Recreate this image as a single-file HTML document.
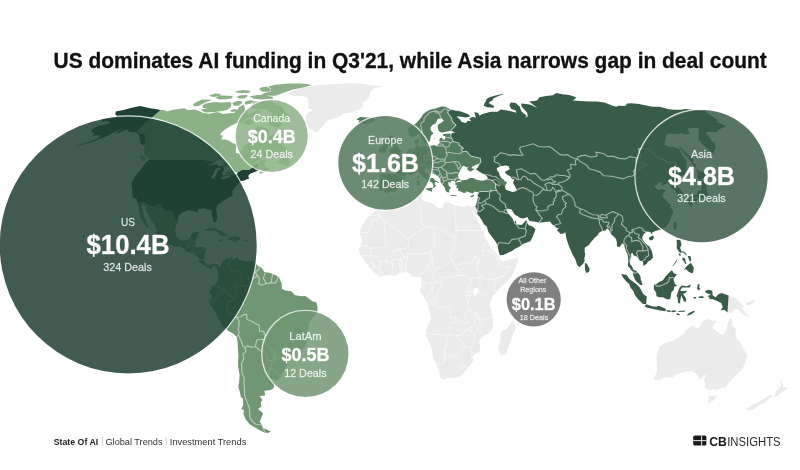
<!DOCTYPE html>
<html lang="en">
<head>
<meta charset="utf-8">
<title>US dominates AI funding in Q3'21</title>
<style>
html,body{margin:0;padding:0;background:#fff;}
body{width:800px;height:470px;overflow:hidden;position:relative;font-family:"Liberation Sans",Arial,sans-serif;}
svg{position:absolute;left:0;top:0;display:block;}
#map,#bubbles{filter:blur(.6px)}
#labels,#title,#footer,#logo{filter:blur(.55px)}
text{font-family:"Liberation Sans",Arial,sans-serif;}
.t{font-weight:700;font-size:21.3px;fill:#111;stroke:#111;stroke-width:.3px}
.w{fill:#fff;text-anchor:middle;}
.lab{font-size:11px;fill-opacity:.85}.sm{font-size:7.3px;fill-opacity:.85}
.val{font-weight:700;stroke:#fff;stroke-width:.35px;stroke-opacity:.7}
.lab,.deal,.sm{stroke:#fff;stroke-width:.3px;stroke-opacity:.45}
.deal{font-size:11px;fill-opacity:.85}
.us{fill:#1f4034}.ca{fill:#8cb186}.la{fill:#719672}.eu{fill:#567c5f}.asia{fill:#395c49}.ot{fill:#ebebeb}.wt{fill:#fff}
.b{fill:none;stroke:#fff;stroke-width:1.15;stroke-linejoin:round;stroke-linecap:round}.ba{stroke-opacity:.52}.be{stroke-opacity:.48}.bl{stroke-opacity:.5}.bf{stroke-opacity:.5;stroke-width:1}
</style>
</head>
<body>
<svg width="800" height="470" viewBox="0 0 800 470">
<rect width="800" height="470" fill="#fff"/>
<g id="map">
<path class="ot" d="M289.1 92.3L299.9 88.6L310.9 86.0L321.9 84.7L336.4 83.9L350.8 82.9L364.1 83.9L370.6 85.5L381.8 86.2L374.1 88.6L370.2 92.3L369.3 96.3L367.1 99.4L363.2 102.5L362.5 105.8L362.0 107.9L358.2 110.1L352.6 112.4L343.7 113.5L339.3 116.9L332.6 118.7L327.7 120.4L323.5 125.1L318.8 131.0L316.5 132.5L313.3 130.8L309.0 129.8L307.6 126.2L306.5 122.2L305.2 116.9L306.7 113.5L312.5 110.1L307.7 107.9L308.6 104.7L308.5 100.4L306.5 97.3L301.3 95.9L293.3 96.3L290.3 94.3ZM386.0 194.1L387.2 193.9L392.2 195.5L394.4 196.0L398.8 193.9L402.1 192.3L405.4 191.5L409.7 191.5L414.1 191.0L417.6 191.2L420.2 190.2L421.3 190.7L422.9 191.2L421.9 193.6L422.6 196.3L421.2 198.9L423.2 200.2L425.5 201.8L428.2 201.8L432.7 203.4L435.9 206.3L439.2 208.1L441.4 208.7L443.6 206.8L443.4 203.9L446.6 202.1L450.0 202.6L452.4 204.2L454.7 205.2L459.2 206.0L463.8 207.1L465.9 205.8L468.1 205.2L471.0 206.0L475.3 206.0L477.3 210.8L477.0 214.7L476.1 215.3L474.4 213.4L472.1 209.7L471.9 210.8L473.8 214.2L475.3 216.6L477.2 220.0L479.3 224.0L480.1 226.6L483.1 230.6L484.2 233.2L484.4 236.9L487.6 241.2L490.2 247.5L493.8 250.4L497.5 254.4L499.4 255.9L499.0 258.1L501.2 261.0L503.6 261.2L508.2 259.4L512.8 258.9L518.1 257.5L517.8 261.2L515.4 267.6L513.2 272.9L512.1 275.5L508.7 279.5L504.8 283.4L501.7 286.1L498.2 289.7L495.9 293.2L492.8 295.5L491.6 299.2L489.4 304.4L490.5 306.5L490.9 311.0L492.9 316.2L492.9 321.4L493.1 328.0L488.9 333.2L484.2 335.3L479.0 340.6L480.1 346.3L479.8 351.6L473.9 355.0L472.9 356.8L473.3 360.7L470.9 364.1L468.5 367.0L465.9 370.7L462.2 374.6L458.7 377.0L455.5 377.7L450.8 377.7L447.5 378.3L443.0 379.8L439.6 377.5L439.6 372.5L437.0 366.0L436.0 363.6L433.3 358.4L431.9 348.9L429.8 343.7L426.0 335.8L426.1 330.1L427.8 325.4L430.2 321.4L430.9 317.5L429.6 311.7L427.5 304.4L426.4 301.3L423.4 296.6L419.9 291.3L420.8 287.6L421.7 283.4L421.5 278.1L418.7 276.8L415.2 277.1L412.8 277.3L410.5 274.2L406.7 271.8L401.6 272.6L398.3 274.2L393.9 276.3L389.5 274.7L384.8 275.5L380.8 277.1L377.8 275.0L373.6 272.1L370.8 268.9L368.0 266.2L366.9 263.6L363.9 260.2L362.5 257.3L360.0 255.7L359.8 253.0L358.2 249.9L360.6 246.4L361.9 240.9L361.5 237.2L359.8 233.8L360.3 230.6L362.3 225.3L365.1 221.3L365.9 219.2L369.4 215.3L372.8 213.4L376.3 210.8L377.3 208.4L376.9 205.5L378.1 203.4L379.9 200.7L381.9 200.0L383.7 198.6L385.1 196.3ZM513.4 320.1L514.9 324.1L515.7 328.8L513.0 334.5L510.2 342.4L507.3 350.2L505.8 354.2L501.6 355.5L499.1 352.9L497.9 347.6L500.6 341.1L500.3 335.8L501.7 331.1L506.0 329.8L510.2 324.1ZM660.5 345.8L666.3 342.6L672.3 341.1L678.6 337.9L680.6 335.6L683.9 334.0L684.5 331.9L688.4 328.0L692.9 325.4L695.8 327.7L698.8 327.7L702.7 321.4L707.0 318.8L709.2 319.9L713.8 320.7L716.8 320.7L714.5 324.1L712.7 328.0L715.8 330.3L720.3 334.5L723.8 334.5L726.8 328.0L728.0 322.2L730.5 316.7L732.2 321.4L732.2 326.1L735.4 328.0L735.8 334.5L736.7 339.0L740.0 341.6L741.2 344.2L743.5 348.9L746.2 353.6L747.0 356.3L746.2 360.7L745.2 363.9L741.4 369.9L737.1 374.3L733.8 377.5L728.8 383.0L726.2 386.9L721.2 387.9L716.3 390.8L714.2 388.7L710.1 390.3L706.5 389.0L704.3 386.9L705.3 383.0L703.7 381.7L704.6 379.8L705.6 374.1L702.5 377.2L699.0 379.8L698.4 376.4L697.0 374.3L694.4 372.5L691.6 371.2L687.0 371.5L680.9 373.0L675.6 375.1L672.4 377.5L664.7 377.5L659.1 380.4L654.8 380.1L653.2 378.5L657.0 372.5L657.1 367.3L656.9 362.0L656.6 356.8L657.5 352.9L658.9 348.1ZM709.7 395.2L712.9 396.3L717.1 395.8L714.5 399.4L711.0 402.2L707.5 402.7L708.3 399.1ZM780.7 378.8L782.2 382.2L783.2 384.8L782.7 387.2L787.1 387.2L788.0 387.4L783.8 391.3L781.3 392.4L777.9 395.5L773.7 397.6L773.0 396.8L776.0 393.9L775.0 392.1L774.9 391.6L778.1 389.5L780.4 386.4L781.1 384.0L780.1 380.9ZM770.3 394.7L772.1 396.5L770.3 398.3L765.9 401.2L763.8 403.3L759.5 404.6L755.0 408.7L749.8 410.5L747.5 409.4L746.3 408.4L752.6 404.6L759.1 401.7L764.3 398.6L768.6 395.5ZM728.6 295.5L733.2 297.6L736.6 298.7L739.5 301.8L742.1 304.4L743.9 306.2L742.5 308.3L745.0 312.3L748.2 314.9L750.0 315.7L746.9 315.9L741.8 313.6L739.3 310.4L736.0 308.9L733.5 310.4L732.1 312.8L727.5 312.5ZM745.3 303.1L749.3 301.8L752.9 299.7L754.8 300.0L753.9 302.6L750.3 304.9L746.8 304.9Z"/>
<path class="ca" d="M160.6 109.9L163.7 110.1L167.2 111.5L172.1 110.1L178.5 109.0L184.6 108.2L187.4 110.1L194.9 109.5L199.7 111.3L203.1 113.0L209.3 113.7L213.6 112.8L217.8 111.9L222.9 113.9L230.5 113.0L234.0 113.0L237.3 110.1L239.3 106.8L243.7 104.7L245.0 107.9L244.9 110.1L247.4 111.3L247.4 113.5L250.0 114.6L255.0 111.3L260.4 109.7L259.7 112.4L256.1 115.8L251.5 117.4L247.5 118.1L244.1 120.4L241.1 122.2L235.7 123.4L230.1 126.2L224.8 129.8L221.6 132.2L220.0 135.1L222.9 135.4L221.1 139.6L225.9 139.6L229.0 140.8L233.3 143.5L237.9 144.0L235.6 149.5L236.1 153.3L239.1 153.3L242.1 150.0L243.8 145.8L249.4 142.5L251.2 140.8L251.3 137.1L250.7 134.7L254.7 131.0L256.3 126.7L261.7 126.7L266.2 128.6L269.2 129.8L268.3 133.4L269.9 135.9L274.1 135.1L277.7 131.5L278.1 134.7L280.2 138.3L280.6 142.0L282.5 144.5L285.5 147.0L287.6 149.5L287.3 152.1L284.2 153.6L279.2 156.4L273.1 156.6L267.0 156.6L262.2 158.7L257.0 161.8L251.5 165.4L255.3 163.6L261.8 159.7L266.9 159.7L265.0 162.3L264.6 164.9L265.6 166.9L270.3 168.5L271.1 169.3L274.4 165.1L273.7 167.7L266.4 171.1L260.2 173.9L259.4 171.9L263.8 169.3L261.6 169.5L258.4 169.8L257.2 168.2L258.4 164.6L255.8 163.8L253.4 165.9L252.2 167.7L248.9 170.0L242.1 170.0L237.4 172.6L233.9 173.7L231.3 174.5L231.0 175.8L226.2 177.3L222.4 178.4L221.7 177.3L224.0 175.2L225.8 170.6L224.5 168.0L222.9 165.9L221.2 163.6L216.9 161.8L214.4 162.3L211.7 161.8L208.1 160.7L205.1 160.2L204.7 158.7L204.1 159.7L149.3 159.7L148.0 157.2L144.1 154.6L144.6 150.8L144.3 147.0L144.6 144.5L145.8 142.0L144.7 139.6L145.1 135.6L144.2 133.7L139.9 134.2L138.9 132.0L136.1 131.5ZM145.2 161.3L141.8 160.2L139.5 155.4L142.3 155.1L144.9 157.2L145.8 159.7ZM281.8 125.1L277.7 127.7L273.9 126.2L270.0 125.1L267.5 121.5L260.3 121.5L260.9 119.2L268.6 118.1L273.2 113.5L269.5 111.3L266.0 109.0L255.9 109.0L251.7 107.9L251.9 104.7L254.0 101.5L262.6 100.9L268.8 101.1L273.8 103.0L279.9 105.8L283.5 107.9L284.0 111.3L288.1 114.6L291.4 116.4L285.9 120.4L282.0 122.7ZM201.9 110.8L205.5 112.4L214.2 112.1L220.2 111.3L227.1 110.1L231.0 106.8L231.5 103.0L229.4 101.9L220.6 102.5L214.9 101.9L205.6 103.6L202.3 105.8L203.2 107.9L207.8 108.4L200.8 109.5ZM192.9 104.7L194.9 106.4L199.0 105.8L205.2 102.5L211.6 100.0L208.4 99.4L201.5 99.8L195.5 102.5ZM259.8 95.7L267.5 95.7L275.2 95.7L282.1 93.3L287.0 91.4L293.2 89.5L304.1 87.2L311.6 85.2L307.2 83.9L299.4 83.5L288.2 83.6L275.7 84.7L267.9 86.4L270.9 88.6L270.6 91.4L263.9 93.3ZM273.0 99.0L272.7 96.7L263.3 95.3L257.4 95.1L249.8 96.3L253.5 98.8L262.3 99.4ZM268.7 91.8L262.7 91.8L259.5 89.5L260.4 87.7L266.3 86.5L269.8 88.3L270.8 89.9ZM231.8 98.4L226.1 99.2L219.5 99.4L215.3 97.7L220.7 95.5L228.9 95.7L232.8 96.3ZM244.4 98.4L239.7 98.4L236.2 97.3L240.2 95.3L246.6 95.1L247.5 96.3ZM238.6 105.8L233.7 105.8L232.3 103.0L237.0 100.9L241.8 100.9L242.1 103.0ZM251.3 103.6L244.6 104.7L245.1 101.5L250.4 100.2L254.1 100.9ZM253.9 123.2L248.2 125.1L244.4 123.9L242.5 122.7L247.6 119.2L250.7 118.5L252.3 121.5ZM236.3 111.3L232.2 112.1L229.9 110.8L234.0 109.0L237.0 109.5ZM220.1 95.9L213.3 96.9L208.8 95.7L215.1 93.5L220.6 93.9ZM249.5 92.7L241.2 93.3L234.3 91.8L242.6 90.1L250.5 90.8ZM276.4 163.3L280.1 163.3L283.8 165.1L287.7 165.9L290.0 163.6L289.0 161.0L288.7 158.7L285.9 157.7L285.5 155.9L287.4 153.1L283.9 154.6L281.0 158.4L278.2 161.0Z"/>
<path class="us" d="M149.3 159.7L146.0 162.3L142.5 166.7L138.3 172.6L135.4 175.8L131.9 182.0L131.5 184.9L132.2 188.9L132.1 192.0L132.8 197.3L136.6 198.9L138.0 202.9L143.5 202.3L150.5 206.0L156.8 206.0L157.2 204.7L161.0 204.7L163.8 210.5L166.7 212.1L168.4 210.0L170.9 210.0L172.8 214.7L173.6 216.1L174.1 219.0L177.9 220.3L178.4 216.1L181.0 213.4L184.9 211.6L187.9 210.3L192.9 210.8L196.1 211.8L197.8 212.1L197.9 208.9L201.3 208.7L205.9 208.4L207.7 210.3L210.1 209.5L211.8 212.1L211.8 215.3L212.8 218.7L214.0 222.1L215.8 222.1L217.4 217.9L217.1 213.4L216.2 209.5L217.0 206.0L218.6 203.9L222.1 201.5L226.0 199.2L229.8 197.0L232.5 195.5L232.5 191.2L234.4 188.4L236.1 186.2L239.2 183.1L239.7 181.5L244.3 180.5L246.9 179.2L249.2 178.6L248.2 176.3L249.6 173.9L253.2 172.6L258.0 170.8L258.4 169.8L257.2 168.2L258.4 164.6L255.8 163.8L253.4 165.9L252.2 167.7L248.9 170.0L242.1 170.0L237.4 172.6L233.9 173.7L231.3 174.5L231.0 175.8L226.2 177.3L222.4 178.4L221.7 177.3L224.0 175.2L225.8 170.6L224.5 168.0L222.9 165.9L221.2 163.6L216.9 161.8L214.4 162.3L211.7 161.8L208.1 160.7L205.1 160.2L204.7 158.7L204.1 159.7ZM160.6 109.9L155.0 109.0L150.3 108.2L145.6 107.3L140.1 106.0L131.7 107.7L123.4 109.9L115.7 111.5L115.3 114.4L116.9 115.8L115.6 117.4L111.9 116.9L102.0 119.0L101.6 121.3L107.5 121.5L110.8 121.8L108.1 123.9L103.3 124.8L97.9 126.2L93.3 128.4L91.0 131.0L92.0 132.5L94.8 132.5L92.4 135.4L97.8 135.6L100.9 135.4L98.0 138.3L88.8 142.0L82.8 144.0L75.7 145.5L79.5 145.3L86.0 143.8L91.7 142.0L100.0 138.8L106.1 136.4L110.2 134.2L116.1 131.0L121.7 129.3L113.8 133.9L118.9 132.7L124.3 130.3L128.0 129.8L128.6 131.5L129.7 132.2L134.4 132.2L137.4 133.0L139.2 135.9L139.9 138.1L140.1 141.0L140.8 143.5L142.4 145.0L144.6 144.5L145.8 142.0L144.7 139.6L145.1 135.6L144.2 133.7L139.9 134.2L138.9 132.0L136.1 131.5Z"/>
<path class="la" d="M138.0 202.9L138.4 205.5L138.7 209.5L140.4 213.4L140.6 215.3L138.8 215.3L141.3 218.7L143.3 222.7L145.5 225.3L147.3 228.2L148.6 227.2L146.9 224.0L145.5 220.0L143.8 216.1L143.0 212.1L141.8 208.1L142.5 204.7L146.0 206.3L145.7 210.8L148.0 214.7L150.4 218.7L152.9 222.7L155.5 227.2L157.0 231.9L156.4 235.1L158.2 238.5L163.6 241.2L167.8 243.8L174.4 246.7L179.1 245.9L182.4 247.5L185.1 250.4L187.7 252.0L191.1 253.0L194.5 253.8L195.6 254.4L196.6 256.2L198.8 258.3L199.3 260.2L199.0 262.3L201.2 263.1L203.9 265.7L205.2 266.8L207.5 267.0L209.8 268.9L210.9 269.7L212.2 266.8L213.5 265.2L216.4 266.8L217.0 269.7L218.6 265.7L215.9 263.6L212.6 263.9L208.8 265.2L206.5 263.9L204.4 261.0L204.0 257.0L205.6 251.7L206.1 249.1L203.3 247.0L199.8 246.7L195.1 247.2L194.1 246.4L195.2 242.5L196.0 239.8L197.5 237.2L199.2 233.2L199.8 231.9L197.1 231.6L191.6 233.2L190.7 236.4L188.0 239.8L182.1 240.6L178.2 239.0L177.2 237.7L175.7 233.8L174.9 229.8L176.3 225.3L177.9 220.3L174.1 219.0L173.6 216.1L172.8 214.7L170.9 210.0L168.4 210.0L166.7 212.1L163.8 210.5L161.0 204.7L157.2 204.7L156.8 206.0L150.5 206.0L143.5 202.3ZM218.6 265.7L219.6 267.6L221.7 264.1L223.0 261.0L224.7 259.4L229.0 258.3L232.6 255.9L233.0 258.3L231.7 260.2L235.5 258.3L236.1 256.5L239.4 259.9L244.0 260.7L248.6 261.8L253.3 260.4L254.9 262.3L257.7 265.7L261.2 267.6L264.5 272.1L270.3 273.1L276.1 275.5L279.1 277.6L281.8 283.9L281.8 288.7L285.3 290.5L291.2 291.3L295.2 295.2L301.7 296.3L305.3 296.0L308.8 298.4L312.3 301.3L316.3 302.3L317.6 307.3L317.2 312.3L313.8 316.2L311.6 320.1L309.4 322.7L308.5 328.0L308.3 334.5L306.9 341.1L304.9 346.3L302.8 348.9L300.0 348.9L296.1 351.0L292.7 352.1L289.6 355.5L288.8 360.7L287.3 364.6L284.6 369.9L282.4 373.0L280.3 377.7L277.4 380.1L274.8 380.1L269.7 377.7L269.8 379.3L272.9 381.7L274.5 384.3L273.4 388.2L270.7 390.0L264.4 390.8L265.2 395.5L259.4 396.0L262.6 399.9L260.6 402.5L261.4 406.4L258.1 408.9L262.5 412.8L263.2 413.5L261.2 417.9L259.7 421.7L262.2 424.9L263.3 427.9L270.6 431.2L268.4 432.9L264.3 432.4L257.9 429.2L253.8 426.7L249.7 424.2L245.5 419.1L243.4 414.1L244.0 410.2L241.4 408.9L243.2 405.1L243.0 398.6L240.9 397.3L239.9 392.1L238.4 386.9L239.2 381.7L239.6 375.1L238.2 367.3L238.1 360.7L238.5 355.5L238.0 350.2L237.6 342.4L236.8 336.9L233.7 334.0L227.6 330.6L221.8 325.1L219.3 320.1L215.9 313.6L212.5 307.6L209.6 304.4L208.8 300.5L211.0 297.6L211.9 295.2L209.3 294.5L209.8 291.3L211.4 288.7L211.6 286.6L214.5 284.7L217.5 282.1L218.3 278.1L217.7 274.2L218.1 271.5L217.0 269.7ZM204.1 230.9L206.7 228.7L210.2 227.7L214.8 228.0L218.0 229.5L222.3 231.6L225.5 234.0L228.3 235.3L226.4 236.1L220.6 236.1L219.7 234.0L216.6 231.6L212.2 230.3L208.7 230.6L205.2 231.1ZM227.4 239.8L229.8 236.4L233.3 236.4L237.9 236.4L241.2 239.6L237.5 240.4L233.8 242.0L231.7 240.6ZM218.3 240.4L221.4 239.8L223.1 241.2L220.5 241.7ZM243.9 240.1L247.6 240.4L247.0 241.4L243.8 241.2Z"/>
<path class="asia" d="M450.7 109.5L454.7 110.4L460.0 111.3L467.8 113.9L470.4 116.4L465.5 117.6L459.9 116.4L456.4 116.4L459.8 119.2L461.5 122.0L466.2 122.9L467.4 120.8L471.1 121.3L469.3 118.5L472.4 117.1L475.9 117.4L474.9 114.6L474.4 112.4L472.7 111.9L477.7 112.8L479.7 115.8L481.7 114.2L487.9 112.6L490.9 111.7L497.7 111.7L500.8 109.5L507.3 110.6L513.0 111.7L516.3 112.8L515.8 110.6L511.5 109.0L509.4 105.8L510.6 102.5L515.7 103.0L519.8 106.8L521.3 111.3L526.7 115.8L525.0 117.4L527.8 116.2L527.1 112.4L521.7 106.8L521.1 103.6L526.3 104.0L530.9 104.7L537.5 107.9L529.1 101.5L537.0 100.4L539.5 97.3L546.0 96.1L552.8 95.3L556.3 92.9L562.3 94.3L569.2 94.9L576.3 97.3L573.0 100.4L580.1 101.1L588.7 101.5L596.7 101.5L604.5 102.5L612.6 105.8L616.4 106.8L618.4 105.8L625.3 106.0L627.1 103.6L631.3 103.2L639.1 104.0L647.3 105.8L653.0 106.8L659.6 106.8L667.8 109.0L673.9 109.7L680.6 109.7L685.5 109.0L690.4 109.5L695.8 109.7L705.0 111.3L718.1 119.9L718.7 121.5L715.3 121.1L726.2 126.2L721.1 128.6L717.8 130.3L717.0 132.2L708.4 131.7L705.8 132.7L709.1 137.1L712.1 141.5L715.2 142.0L714.9 144.5L716.0 149.0L713.8 149.5L714.8 154.6L709.8 150.8L702.6 144.5L698.4 139.6L698.8 136.4L698.4 132.7L699.2 131.0L697.9 126.2L698.5 128.1L692.6 127.9L687.7 128.4L689.8 133.4L685.5 134.7L681.7 133.2L677.2 133.9L671.3 133.7L667.1 134.2L665.8 137.6L665.0 140.8L664.5 144.5L669.3 147.0L673.2 146.5L679.0 149.0L681.0 152.1L683.1 155.9L686.7 161.0L686.6 166.2L685.9 171.3L684.9 174.7L681.5 176.0L678.5 175.0L677.2 177.1L677.1 180.5L675.9 183.1L674.7 184.9L677.6 186.8L681.8 191.0L683.5 194.1L683.2 196.0L680.4 197.0L678.2 197.6L676.7 193.6L675.1 189.7L672.3 188.9L670.4 187.0L669.7 184.4L667.1 183.1L664.7 184.4L662.5 186.0L661.2 181.8L657.6 183.1L656.5 185.2L653.9 185.7L656.4 188.4L658.7 190.2L661.4 188.9L666.5 190.5L664.0 192.3L663.1 193.6L662.0 196.3L665.2 198.9L668.3 202.9L671.1 205.5L670.2 208.1L672.9 209.5L673.0 213.4L671.5 216.1L670.5 220.0L668.2 224.0L665.4 227.2L660.2 229.8L658.7 230.1L655.4 231.1L652.2 232.4L652.2 235.1L650.3 231.9L647.4 231.4L646.4 231.9L643.9 233.8L642.2 237.2L642.5 239.3L644.6 242.5L647.3 245.1L649.3 246.4L651.5 250.4L652.6 254.4L653.0 257.5L650.2 260.4L648.0 261.5L647.0 263.6L643.6 266.0L642.9 262.3L642.1 261.0L639.8 260.7L638.4 258.3L636.6 256.5L633.4 255.2L633.0 253.3L631.0 253.6L631.3 257.0L630.4 259.6L629.9 262.3L630.2 264.4L632.0 266.2L633.4 269.7L635.8 270.7L637.5 272.3L640.4 276.0L640.8 279.5L642.1 283.4L642.6 285.0L640.9 285.3L638.1 282.9L635.7 280.8L634.0 277.6L633.1 274.4L632.8 271.8L631.5 270.5L629.8 268.1L628.0 266.2L628.2 262.3L628.1 257.5L627.6 254.4L626.1 251.7L624.7 247.8L624.4 245.1L622.3 243.3L619.6 247.0L616.9 246.4L616.9 242.5L616.0 239.0L613.8 236.4L612.2 235.3L610.6 233.5L608.9 229.8L606.9 228.5L605.6 230.6L602.7 231.1L600.9 231.4L598.4 233.2L598.2 234.8L596.1 236.4L594.0 238.5L591.0 242.0L588.8 244.9L586.6 246.4L584.7 247.8L584.6 251.7L585.3 254.1L584.4 258.3L584.6 261.5L582.9 264.1L581.1 265.5L579.6 267.3L577.1 264.9L576.3 262.3L575.2 259.1L572.5 254.6L570.5 249.6L569.6 247.8L568.1 243.8L566.4 238.5L565.7 234.6L565.2 231.9L564.2 233.2L560.6 234.0L556.8 230.1L558.9 228.5L556.0 227.4L554.5 226.1L552.3 224.5L551.4 223.2L550.1 221.6L545.6 222.1L540.6 222.4L539.0 222.4L536.7 221.9L533.0 221.6L529.1 220.8L527.5 217.1L523.6 218.4L520.1 217.9L517.6 216.1L515.2 215.0L513.3 212.4L511.6 209.5L508.8 208.7L507.8 209.5L506.4 209.5L506.8 211.0L508.2 213.4L510.9 216.6L512.7 218.7L513.6 221.3L514.5 223.2L515.1 219.8L516.3 222.7L516.2 224.5L518.5 224.8L522.0 224.8L524.6 221.9L526.2 219.8L527.2 222.7L528.9 225.3L532.6 226.4L535.6 229.3L533.6 234.6L531.9 238.5L530.2 241.2L526.9 242.5L523.5 243.8L519.6 246.4L514.6 249.1L512.4 250.7L509.0 252.3L503.3 254.9L499.9 255.2L499.1 253.0L498.2 249.6L497.5 245.1L495.7 241.7L493.2 238.5L490.2 234.6L488.4 231.9L486.7 226.6L483.8 224.0L481.7 220.0L479.1 216.1L477.4 214.2L477.3 210.8L475.3 206.0L475.9 205.2L476.4 203.9L476.7 202.1L477.0 200.7L477.5 199.2L477.9 197.6L477.7 193.9L478.3 193.6L479.2 191.8L482.0 191.5L486.4 191.5L491.5 190.7L496.7 190.5L495.7 188.4L495.6 183.9L492.1 180.2L487.6 179.2L487.5 177.3L485.8 175.2L483.5 174.2L479.9 171.9L477.0 170.0L475.6 169.3L478.0 167.4L478.7 165.4L480.1 164.3L477.9 164.6L480.8 162.5L480.3 158.2L476.0 157.2L470.7 156.1L466.7 151.3L462.4 151.8L461.3 149.0L463.5 148.3L459.1 145.0L459.1 143.0L453.3 141.5L451.8 138.6L451.1 137.6L450.7 134.9L451.4 133.4L453.1 132.7L455.5 132.5L452.8 131.5L450.5 131.0L453.8 127.4L456.0 125.1L452.4 121.5L451.6 118.1L449.0 114.6L447.6 112.4L448.1 111.3ZM483.8 105.8L487.1 107.3L494.0 107.7L493.7 105.8L489.3 103.6L489.1 101.9L492.3 100.4L493.3 98.4L496.9 96.7L500.4 95.3L504.4 94.7L501.2 94.3L494.6 95.7L489.5 97.3L486.6 99.0L485.7 101.5L484.4 103.6ZM694.8 167.4L696.4 165.4L692.7 162.3L693.9 159.2L686.7 153.3L683.2 149.5L679.2 146.0L679.7 148.3L683.7 153.3L687.2 157.2L691.1 162.3L693.7 166.2ZM698.3 179.2L701.3 179.4L704.6 177.9L707.0 174.5L704.7 172.6L699.6 171.3L695.5 168.7L697.5 172.6L697.6 174.7L697.3 176.5ZM701.5 179.4L704.6 183.1L705.8 184.4L706.5 187.6L707.2 191.0L708.5 194.4L707.6 196.3L706.6 195.5L705.4 196.3L705.5 197.3L703.7 197.3L701.5 197.3L701.4 198.1L700.6 200.2L697.7 198.1L694.9 197.3L691.9 198.1L688.9 198.9L689.4 197.8L691.0 195.2L694.1 194.7L697.0 194.7L697.3 193.1L698.0 191.0L698.5 189.7L699.6 191.0L701.2 189.9L701.9 187.0L701.0 183.6L699.8 181.5L699.5 179.9ZM693.4 201.5L693.4 198.9L696.3 198.1L697.4 199.4L696.3 200.5L694.7 202.1ZM687.3 200.2L689.0 199.2L691.8 201.0L692.4 204.7L691.4 206.8L689.3 204.2L687.1 201.5ZM674.2 222.1L676.6 222.7L676.3 226.6L675.7 230.6L673.4 228.0L673.3 225.3ZM648.9 237.7L652.3 235.6L654.1 236.9L652.9 239.6L651.2 240.6L649.2 239.6ZM584.9 262.8L587.1 264.1L589.7 268.9L589.1 271.8L586.4 273.1L585.1 270.2L584.9 266.2ZM676.5 239.8L680.4 239.8L681.5 245.1L680.1 247.8L681.3 251.2L684.1 251.7L686.8 254.4L686.4 255.2L683.1 252.5L680.1 252.8L678.4 250.9L676.6 247.8L676.9 245.1ZM683.6 270.2L686.8 266.0L690.9 262.8L693.7 267.6L693.5 271.5L692.0 273.6L688.3 271.5L685.8 268.9ZM687.6 255.7L690.5 256.2L691.3 259.6L690.0 262.3L689.0 259.6ZM682.5 257.5L684.9 258.3L685.6 261.0L686.3 263.6L685.0 264.1L683.8 261.0L682.5 260.2ZM672.1 266.5L674.9 262.8L676.8 258.9L676.6 261.5L673.9 265.2ZM678.3 253.3L680.7 253.8L680.5 256.2L679.5 255.7ZM653.8 284.7L656.1 284.2L659.1 282.1L663.0 280.2L665.2 276.8L669.7 272.1L671.9 270.2L673.7 272.9L676.8 274.7L674.6 277.3L673.5 279.5L674.8 283.4L677.2 286.1L674.4 286.6L673.7 290.0L671.3 292.6L670.8 296.6L670.0 299.2L666.7 299.2L663.0 297.3L659.5 297.3L656.5 296.3L656.1 292.6L653.9 289.5ZM621.4 273.9L626.6 275.0L629.6 278.9L633.4 282.1L636.2 283.9L639.8 287.4L641.7 291.3L643.2 293.9L646.7 296.6L646.2 303.9L642.9 303.9L639.5 300.5L637.7 298.7L635.0 295.2L633.5 291.3L630.4 287.4L629.2 283.9L625.6 280.8L622.0 276.0ZM644.4 306.5L646.4 304.2L652.1 306.2L656.8 306.8L658.0 305.7L661.9 307.0L665.9 309.1L665.6 311.2L660.0 310.4L653.1 309.1L647.4 307.8ZM666.1 310.2L668.4 310.2L671.0 310.7L670.4 312.0L667.4 311.7ZM671.4 311.0L674.0 310.2L676.5 311.0L675.1 312.0L671.5 312.3ZM678.4 311.0L682.2 310.7L685.7 310.4L684.4 311.7L678.6 312.0ZM686.6 315.7L689.0 313.1L692.6 311.2L695.4 310.7L693.6 312.8L690.0 314.9ZM676.1 313.6L678.9 313.6L680.1 315.2L677.1 314.9ZM678.0 303.1L677.7 297.9L676.6 295.8L678.4 290.8L679.6 287.4L681.9 285.5L686.6 286.3L691.2 284.5L689.6 287.6L681.9 287.6L680.3 291.1L683.3 291.1L687.3 290.8L685.4 292.9L683.0 293.7L684.8 296.6L686.3 299.2L685.5 302.3L683.7 301.0L681.8 296.6L681.3 295.5L680.2 301.0L680.1 303.4ZM697.1 288.7L697.8 283.9L699.9 284.7L698.8 287.4L700.2 287.9L699.0 290.8L697.8 289.5ZM698.1 297.1L701.7 296.0L704.6 297.3L702.7 298.1L699.2 297.9ZM693.4 297.1L696.2 297.1L695.7 298.7L693.8 298.4ZM728.6 295.5L721.6 292.9L718.1 294.5L715.6 297.3L712.7 295.2L712.3 290.8L708.8 289.7L705.3 290.8L705.3 292.4L708.3 293.7L711.1 294.7L707.5 296.0L709.3 297.6L709.7 299.2L712.1 298.9L716.6 300.7L721.2 303.1L722.8 307.0L720.7 310.4L724.2 309.7L727.5 312.5Z"/>
<path class="eu" d="M450.7 109.5L445.3 106.8L441.6 106.4L435.7 108.4L430.8 109.5L426.1 111.7L423.0 114.6L420.8 118.1L418.4 120.8L415.9 123.6L411.5 125.5L408.3 127.4L408.1 129.8L408.5 132.2L409.2 134.7L412.1 137.1L414.9 136.4L418.6 133.9L419.9 134.7L420.7 137.1L421.8 139.6L423.6 142.0L424.1 143.5L426.6 143.3L426.9 142.0L429.7 141.5L430.4 138.3L431.0 135.4L433.5 133.4L430.9 130.5L430.5 127.4L432.4 125.1L435.7 123.2L437.0 120.4L438.0 118.7L441.5 118.5L444.0 120.4L441.8 122.2L437.8 125.1L438.0 128.6L438.8 131.0L440.8 132.2L441.9 132.7L445.4 131.7L450.5 131.0L453.8 127.4L456.0 125.1L452.4 121.5L451.6 118.1L449.0 114.6L447.6 112.4L448.1 111.3ZM451.4 133.4L445.2 133.7L443.0 134.2L443.3 135.9L445.3 136.1L445.1 137.6L444.9 139.6L443.0 139.6L441.9 137.8L439.9 138.3L439.3 140.8L439.8 142.8L437.9 144.8L437.5 145.8L435.5 146.0L434.6 145.0L431.2 145.8L427.0 147.0L425.3 145.8L422.4 146.5L420.5 147.0L418.4 145.8L417.4 144.5L418.3 143.3L418.7 141.5L419.6 140.8L418.9 138.3L417.0 139.1L414.6 140.1L414.5 143.0L415.6 144.8L416.1 147.0L414.6 148.0L412.7 148.5L410.7 148.5L408.7 149.0L408.1 149.8L407.4 151.8L406.0 153.6L403.8 154.3L402.0 154.9L401.8 156.6L399.2 158.2L396.4 158.7L395.7 157.9L395.5 160.5L392.7 160.2L389.2 161.3L389.9 162.8L393.0 163.6L394.2 164.3L395.7 166.9L396.5 168.7L396.3 170.8L395.6 173.9L395.0 174.2L390.8 173.9L386.7 173.7L381.9 173.4L379.3 174.7L380.0 177.9L380.2 179.9L378.7 184.7L378.2 186.5L379.7 187.3L379.3 191.0L382.6 190.5L384.8 191.8L386.5 193.6L389.2 191.8L394.0 191.8L397.3 189.4L399.2 186.5L398.2 184.4L400.7 181.0L403.5 179.4L405.6 177.1L405.2 174.7L407.3 173.9L410.2 174.7L412.8 174.7L414.4 173.4L417.5 171.6L420.6 173.9L422.2 176.8L425.1 178.6L428.4 179.9L429.5 181.0L432.4 183.1L433.5 185.7L433.0 188.4L434.7 187.3L436.1 185.7L434.4 183.9L435.4 181.8L438.7 183.1L438.6 182.0L435.3 180.5L433.0 178.1L430.8 177.9L428.6 176.0L427.3 173.7L424.9 171.9L424.5 169.0L427.4 168.2L427.3 170.0L429.2 169.3L430.8 172.1L433.5 173.9L435.9 175.2L438.2 176.8L440.2 178.4L440.6 182.0L442.0 183.9L443.7 186.2L444.7 187.6L445.3 189.7L446.3 191.5L448.1 192.6L449.4 192.3L449.0 189.9L450.4 188.6L451.0 187.8L448.6 185.7L448.1 181.8L450.1 183.1L451.2 180.7L454.6 181.0L455.3 182.8L456.3 182.0L457.8 180.5L461.0 180.5L458.6 178.1L458.1 176.0L457.9 174.7L459.2 173.4L459.3 172.1L460.8 169.5L462.6 166.2L464.2 165.9L466.5 167.2L468.6 167.4L466.8 169.0L469.2 171.1L470.8 171.6L473.0 170.0L475.2 169.0L471.9 168.2L471.7 166.9L475.0 165.6L476.4 164.6L477.9 164.6L480.8 162.5L480.3 158.2L476.0 157.2L470.7 156.1L466.7 151.3L462.4 151.8L461.3 149.0L463.5 148.3L459.1 145.0L459.1 143.0L453.3 141.5L451.8 138.6L451.1 137.6L450.7 134.9ZM461.2 180.2L466.1 179.9L470.3 177.9L473.5 177.9L476.6 179.7L481.4 180.7L484.0 180.5L487.6 179.2L492.1 180.2L495.6 183.9L495.7 188.4L496.7 190.5L491.5 190.7L486.4 191.5L482.0 191.5L479.2 191.8L478.3 193.6L477.7 193.9L478.1 192.0L476.6 192.0L474.5 191.5L472.8 193.4L468.9 192.3L466.0 191.2L465.7 192.8L463.6 193.1L460.8 191.5L458.5 191.0L458.0 188.4L456.0 187.6L457.1 185.7L455.2 184.4L455.5 183.1L458.0 182.0L461.2 181.8ZM495.2 179.7L498.1 178.4L502.6 178.4L504.8 181.5L507.1 182.3L505.5 184.9L505.0 187.0L502.6 184.4L499.6 186.0L498.2 184.1L496.8 181.5ZM387.2 156.9L391.7 156.6L394.8 155.6L398.8 155.1L401.6 154.1L400.2 153.3L402.2 150.5L399.4 149.5L398.8 148.0L396.4 145.5L395.7 143.3L394.0 142.0L395.0 139.6L395.4 138.1L392.1 137.8L393.1 135.6L389.3 135.6L388.3 138.3L387.2 140.8L388.1 143.3L389.4 145.0L392.0 144.8L392.9 147.0L392.7 148.8L389.9 148.8L389.8 150.8L388.4 152.6L392.8 153.3L390.3 154.3ZM386.8 151.6L382.8 152.8L378.8 152.6L379.0 148.3L382.1 145.8L384.2 143.8L387.1 144.0L388.0 145.8L386.7 148.8ZM356.4 119.2L360.3 117.1L367.2 117.6L372.5 117.4L374.6 120.4L370.0 123.2L364.5 124.1L358.3 122.9L359.6 120.8ZM426.0 188.4L432.5 187.8L431.9 191.8L426.1 189.4ZM416.4 180.5L419.6 180.5L419.6 185.2L417.2 185.7ZM417.1 176.5L419.0 175.2L418.9 179.2L417.6 178.9ZM450.7 194.7L456.7 195.5L456.6 196.3L450.8 195.7ZM470.1 196.3L471.5 195.5L474.7 194.4L473.6 196.3L471.7 197.3ZM420.2 142.8L423.0 141.8L423.3 143.3L422.3 144.8L420.6 144.0ZM433.8 139.6L435.0 137.3L434.8 138.8ZM404.0 184.4L406.1 183.6L405.5 184.9Z"/>
<path class="wt" d="M207.6 165.6L211.2 165.1L214.4 164.9L216.8 164.1L218.0 166.2L222.3 165.9L223.4 165.1L223.6 162.8L221.6 160.5L218.0 160.2L215.0 162.3L211.1 164.1ZM211.1 178.6L213.6 178.4L215.9 175.2L217.3 171.3L219.7 169.5L221.4 168.0L219.4 167.7L217.1 168.2L214.5 170.6L213.7 173.9L211.8 176.5ZM222.7 167.4L224.2 168.7L223.9 170.6L221.8 173.2L223.8 175.2L225.9 173.9L227.8 171.3L230.5 171.3L231.3 169.3L230.0 167.4L226.0 166.9ZM220.6 178.6L223.4 179.2L228.3 177.3L231.0 175.8L230.0 175.5L226.6 176.0L222.9 177.6ZM230.0 174.5L233.6 174.5L236.9 173.9L237.9 172.4L235.3 172.6L231.9 173.2ZM496.9 168.0L500.6 166.2L505.6 165.4L508.9 166.2L509.7 169.3L506.1 171.3L504.7 171.9L506.8 174.5L510.5 176.5L511.8 179.2L514.3 179.2L513.1 183.1L514.7 185.7L516.7 189.7L515.9 191.2L512.7 192.0L509.3 191.0L505.7 189.4L505.0 187.0L505.5 184.9L507.1 182.3L504.8 181.5L503.8 179.7L501.2 177.9L499.6 175.2L499.0 172.6L497.1 170.6ZM473.2 290.0L474.8 287.9L478.4 288.2L478.3 292.6L476.0 295.5L473.6 295.0L473.2 292.6Z"/>
<path class="b ba" d="M500.8 166.7L499.0 163.6L495.5 162.3L494.2 161.0L494.8 159.2L493.8 157.2L497.1 156.4L497.7 155.1L500.7 152.8L505.4 153.8L509.9 155.4L513.7 154.6L518.0 155.4L523.0 155.1L520.9 152.1L519.5 148.3L520.9 147.0L526.3 145.8L533.3 143.8L538.4 146.5L543.6 147.0L549.3 146.5L552.1 148.3L560.1 154.6L564.4 155.1L567.2 154.6L571.4 157.2L577.1 159.2M577.1 159.2L575.2 161.0L575.9 164.9L570.5 164.3L571.3 168.7L567.2 170.0L570.0 174.7L569.7 177.3M577.1 159.2L577.5 157.2L580.9 155.9L584.6 155.1L591.7 157.2L597.1 155.9L595.9 152.1L604.0 153.8L607.5 156.4L613.6 156.4L618.9 158.4L625.3 158.9L630.0 156.6L636.1 157.7M578.1 159.2L579.4 161.0L586.3 164.9L589.1 168.7L595.0 170.3L600.0 172.1L603.8 175.8L611.5 176.3L616.2 177.3L623.3 178.9L627.7 176.8L632.6 176.0L635.1 173.4L633.3 171.3L634.7 170.0L637.9 170.0L641.0 168.2L642.1 166.4L647.0 164.9L643.0 162.8L641.1 163.1L637.6 162.3L636.1 161.5L636.1 157.7M636.1 157.7L638.9 158.4L641.0 156.4L639.9 153.3L638.9 150.5L638.5 148.8L643.1 148.3L646.8 149.3L649.6 150.3L657.2 156.4L658.1 157.7L664.8 160.0L669.0 163.1L672.6 162.3L675.5 161.5L677.7 170.0L674.6 170.0L675.2 172.6L676.8 175.2L676.9 176.8M676.9 176.8L674.8 176.5L671.9 177.9L670.4 178.9L669.3 180.7L667.1 183.1M674.7 188.9L676.0 187.6L677.6 186.8M510.9 178.4L513.8 177.1L517.7 179.7L518.7 179.7L516.2 170.0L521.1 168.7L527.3 171.9L530.0 173.9L535.1 173.4L539.6 177.9L541.3 179.9L544.7 180.5L546.5 179.4L549.2 177.9L550.0 177.1L555.2 176.5L554.8 175.2L556.7 174.7L560.1 175.5L564.4 175.5L569.7 177.3M518.7 179.7L520.9 179.7L523.1 176.0L526.7 177.3L527.7 179.7L530.6 179.9L533.6 183.1L538.7 186.0L543.6 188.4L544.2 189.9M516.5 190.2L519.7 188.4L523.2 187.6L527.5 189.4L531.4 192.0L532.9 192.0L533.5 194.7M533.5 194.7L536.5 195.5L540.3 192.8L542.2 189.7L544.2 189.9M544.2 189.9L547.0 190.5L550.3 190.7L551.9 189.4L552.7 187.3L554.1 188.6L555.4 191.8L558.3 190.2L562.5 190.5M547.0 190.5L546.5 187.0L544.7 184.4L548.5 182.6L550.8 183.1L552.3 184.4L558.4 184.4M546.5 179.4L548.7 179.7L551.7 178.9L553.4 181.0L555.7 181.5L553.5 182.6L550.8 183.1M569.7 177.3L566.1 180.5L562.4 182.0L558.4 183.1L558.4 184.4L561.7 187.0L562.5 190.5M507.8 209.5L505.6 206.8L505.5 204.2L501.1 201.5L499.6 198.9L500.3 196.3L499.9 194.1L498.3 193.6L496.7 190.5M495.6 183.9L499.6 186.0M533.5 194.7L533.0 197.6L533.3 201.5L535.1 205.5L537.2 206.8L535.6 209.7M535.6 209.7L538.2 213.2L541.0 216.9L542.2 218.4L539.0 222.4M535.6 209.7L539.5 211.0L542.8 210.8L547.8 209.7L548.0 206.3L550.7 205.0L553.5 204.4L553.3 201.5L554.9 200.5L553.8 198.9L556.0 197.6L556.4 194.9L555.7 192.8L558.6 191.5L562.5 190.5M554.5 226.1L555.7 224.5L560.6 223.7L559.5 220.8L558.0 218.4L556.4 216.9L558.1 214.7L561.4 214.0L562.8 209.7L564.7 207.9L565.8 206.6L565.0 204.2L566.6 203.4L564.0 201.5L562.7 198.9L562.2 197.0L567.7 194.4L570.1 194.9M562.5 190.5L564.8 191.8L570.1 194.9M570.1 194.9L572.8 197.6L574.8 202.9L575.1 206.0L580.6 208.9M580.6 208.9L584.2 210.0L588.1 212.4L593.1 214.7L597.9 215.0M580.6 208.9L579.4 212.6L583.0 214.7L587.4 216.3L591.5 217.9L598.7 219.0L597.9 215.0M597.9 215.0L600.1 216.6L601.6 214.2L605.9 215.3L607.5 217.7L602.8 217.9L600.2 217.4L600.1 216.6M605.9 215.3L608.7 213.4L612.7 211.6L618.5 214.0M602.7 231.1L601.8 228.0L599.6 224.0L599.2 220.6L599.6 219.0L602.8 220.0L603.1 221.9L608.9 222.4L608.6 224.5L607.0 225.8L608.0 228.0L609.5 226.1L610.9 230.9L610.6 233.5M610.9 230.9L612.2 230.1L611.9 225.3L614.3 221.9L614.7 218.4L616.6 216.6L618.5 214.0M618.5 214.0L622.2 216.1L623.1 220.6L621.3 224.0L624.8 227.4L626.3 228.2L626.0 230.3L628.3 231.9L630.9 232.7M630.9 232.7L628.7 235.1L626.4 236.4L624.1 239.8L623.8 242.5L626.8 245.6L626.2 248.6L629.2 254.4L630.4 257.5L628.9 261.8M628.7 235.1L630.0 237.2L631.6 237.2L631.8 241.7L634.2 240.6L638.5 240.4L640.7 242.7L642.9 247.0L642.7 250.9M642.7 250.9L637.6 250.9L636.4 252.8L638.1 257.8M632.5 229.5L635.2 233.5L639.3 234.8L638.1 237.5L641.2 239.8L644.8 243.8L647.8 248.6L648.2 249.9M630.9 232.7L632.3 232.7L631.8 229.8L632.5 229.5M632.5 229.5L635.5 228.7L639.4 227.2L642.8 228.5L643.0 230.6L646.4 231.9M642.7 250.9L644.6 250.9L648.2 249.9L648.6 255.7L645.3 257.8L645.0 259.6L642.1 261.0M632.8 271.5L634.7 273.4L637.2 272.3M655.2 283.4L656.2 286.1L659.7 286.1L663.2 284.7L667.3 282.9L668.9 280.8L669.3 277.6L673.5 277.6M497.8 245.4L498.8 242.7L501.5 242.7L506.2 243.3L508.5 243.8L511.7 239.6L518.5 238.5L521.5 244.6M518.5 238.5L525.2 235.9L526.4 230.6L525.1 228.7L519.1 228.2L516.5 225.0L516.2 224.5M525.1 228.7L526.1 224.8L526.6 223.2L527.2 222.7M514.5 223.2L516.2 224.0M508.0 213.4L506.4 213.4L503.5 211.8L505.3 209.5L506.4 209.5M503.5 211.8L499.5 211.6L492.8 206.3L489.0 204.4L486.2 203.7L481.5 205.5L484.0 208.1L483.0 209.5L480.9 210.8L479.9 211.6L477.5 211.0M486.2 203.7L484.9 200.5L489.5 197.8L489.5 194.9L489.6 192.3L491.5 190.7M484.9 200.5L480.8 203.4L478.5 202.3L478.0 203.1L478.2 205.5L478.1 206.8L477.5 210.8M476.8 201.3L478.3 200.7L479.8 198.4L478.3 197.3M483.5 174.2L487.8 174.7L492.4 176.3L495.6 176.5L498.1 178.4M495.2 179.7L492.1 180.2"/>
<path class="b be" d="M433.7 111.3L429.6 112.4L426.6 115.8L424.3 118.1L423.8 121.5L421.3 122.7L420.6 125.1L421.5 128.6L422.1 131.7L421.0 133.4L419.9 134.7M433.7 111.3L435.3 110.6L438.9 111.9L441.5 112.1L442.5 110.4L444.2 109.0L445.9 109.0L447.7 109.7L448.1 111.3M433.7 111.3L436.5 112.6L439.5 113.7L440.4 116.9L441.5 118.5M445.1 137.6L448.4 137.6L451.1 138.1M439.5 141.8L443.2 141.3L447.1 141.3L450.5 142.8L453.3 141.5M450.5 142.8L449.3 144.8L449.0 146.5L445.1 147.3L443.6 146.0M437.5 145.9L443.6 146.0L443.2 144.5L439.9 143.8M445.1 147.3L446.4 150.3L446.0 152.1L446.2 153.3L447.3 155.1L445.6 157.7L445.0 159.5M446.2 153.3L448.9 152.3L454.0 153.3L460.2 153.8L462.4 151.8M427.0 147.0L427.2 149.5L428.2 152.1L429.0 154.6L432.2 156.4L434.3 156.4L437.1 158.4L439.6 158.9L445.0 159.5M445.0 159.5L444.4 161.3L445.9 162.3L449.3 162.5L453.4 161.5L456.3 161.5L458.9 162.3L461.1 166.2L457.8 168.7L460.8 169.5M453.4 161.5L455.6 163.6L457.4 166.2L457.8 168.7M434.2 162.3L437.5 162.8L440.9 161.0L444.4 161.3M433.7 160.7L435.6 159.7L437.1 158.4M427.1 160.5L429.5 159.7L433.7 160.7L434.2 162.3L433.0 164.9L432.2 165.4M445.9 162.3L443.4 165.6L441.1 167.2L438.2 167.7L434.2 167.4L432.9 166.2L432.2 165.4M441.1 167.2L443.9 170.0L446.1 171.1L446.6 172.1L447.4 173.2L452.7 173.4L455.7 172.4L459.2 173.4M446.6 172.1L446.2 174.5L447.6 175.2L446.5 177.1L448.0 178.6L447.9 179.7L451.2 179.2L454.5 179.7L455.2 178.6L457.5 177.9L458.6 178.1M455.2 178.6L455.8 179.7L454.6 181.0M442.0 183.9L443.4 182.6L443.9 181.0L446.0 180.2L447.9 179.7M443.9 181.0L442.7 179.2L442.8 177.9L441.3 176.3L440.2 178.1M442.8 177.9L444.6 177.3L446.5 177.1M431.9 169.5L433.4 169.5L435.5 169.8L438.7 170.3L439.7 172.1L440.1 173.9L438.1 176.3M431.9 169.5L432.5 172.1L435.9 175.2L438.2 176.5M438.7 170.3L438.5 168.7L438.2 167.7M440.1 173.9L441.9 175.8L441.3 176.3M427.2 168.7L430.8 168.7L432.9 166.2M427.4 168.2L427.3 166.2L432.2 165.4M395.0 174.2L400.3 176.0L405.6 176.8M380.0 178.1L381.3 177.6L384.9 178.1L385.5 178.9L383.9 183.1L382.6 184.1L383.6 187.8L382.6 190.5M414.6 173.2L413.5 171.3L413.4 168.7L413.4 167.7L411.3 166.9L413.3 163.6L414.5 163.3L415.6 159.7L411.8 158.4L407.3 157.2L403.8 154.3M405.6 153.6L408.9 153.6L410.5 154.6L410.9 155.1L410.8 152.6L412.8 151.6L413.1 148.8M410.9 155.1L411.4 157.2L411.8 158.4M415.6 144.8L417.4 145.0M414.5 163.3L418.6 163.6L420.5 163.8L423.6 163.3L425.6 163.6L425.5 161.5L427.1 160.5L424.3 158.4L423.3 156.4L427.6 154.6L429.0 154.6M413.4 167.7L416.5 166.9L417.6 168.0L420.4 165.9L423.7 164.9L427.3 166.2M418.6 163.6L418.5 164.6L420.4 165.1M451.4 133.4L450.7 134.9L451.1 137.6L451.8 138.6L453.3 141.5L459.1 143.0L459.1 145.0L463.5 148.3L461.3 149.0L462.4 151.8L466.7 151.3L470.7 156.1L476.0 157.2L480.3 158.2L480.8 162.5L477.9 164.6M447.6 112.4L449.0 114.6L451.6 118.1L452.4 121.5L456.0 125.1L453.8 127.4L450.5 131.0M450.7 109.5L448.1 111.3L447.6 112.4M487.6 179.2L492.1 180.2L495.6 183.9L495.7 188.4L496.7 190.5L491.5 190.7L486.4 191.5L482.0 191.5L479.2 191.8L478.3 193.6L477.7 193.9"/>
<path class="b bl" d="M233.0 257.5L230.1 259.6L228.7 264.4L230.1 267.6L230.7 270.2L235.4 270.5L241.2 272.3L240.3 276.8L241.4 280.0L242.3 285.5M242.3 285.5L245.5 286.6L249.1 284.7L249.1 282.1L250.5 282.9L248.0 278.1L252.0 278.7L256.2 276.8L257.0 275.0M257.0 275.0L255.6 272.9L256.2 271.0L258.8 269.7L259.3 266.8M257.0 275.0L258.6 276.8L259.7 279.5L258.5 283.4L261.9 285.3L265.5 283.7L266.6 283.7L271.1 282.6L275.5 282.9L278.0 277.6M266.6 283.7L263.2 278.1L265.2 272.9M271.1 282.6L271.9 278.1L272.7 273.6M242.3 285.5L236.2 284.2L235.5 286.9L235.0 288.7L236.4 291.3L235.2 299.7M235.2 299.7L229.2 295.0L226.8 292.1L222.6 289.0L218.6 287.6L214.5 284.7M222.6 289.0L222.2 292.6L216.9 296.6L214.9 300.5L213.0 301.8L211.1 300.2L211.0 297.6M235.2 299.7L228.2 301.8L226.8 307.0L228.7 312.8L231.1 314.9L234.3 313.6L234.5 317.5L236.8 317.5M236.8 317.5L239.2 321.4L238.8 326.7L238.1 329.3L239.3 331.9L238.4 334.5L236.8 336.9M236.8 317.5L240.5 316.7L243.9 314.6L246.7 314.4L246.9 319.3L252.4 321.7L256.1 324.1L258.9 324.8L259.6 331.1L264.0 331.4L264.2 334.5L266.2 335.8L265.5 340.6L265.1 341.6M265.1 341.6L262.6 339.2L256.7 340.0L255.2 346.8L251.2 347.1L249.5 346.6L246.9 345.8L245.1 348.4M245.1 348.4L242.5 345.0L241.4 341.1L239.9 338.5L238.4 334.5M265.1 341.6L266.4 346.6L270.6 347.1L271.9 351.6L274.9 351.6L274.7 355.7M274.7 355.7L272.5 360.5L266.1 359.9L267.7 355.0L261.9 351.6L255.2 346.8M274.7 355.7L277.1 358.9L272.8 362.8L269.5 367.8M269.5 367.8L273.3 369.4L277.1 372.0L280.4 377.0M269.5 367.8L269.2 373.8L269.4 377.5M245.1 348.4L245.9 351.6L243.0 353.6L243.6 359.4L241.5 363.3L241.8 368.6L242.2 373.8L244.2 377.7L243.9 383.0L244.6 389.5L244.4 394.7L247.1 402.5L249.3 407.6L249.6 411.5L250.0 417.9L252.6 421.7L255.7 424.2L259.9 424.7L262.3 425.2M262.2 425.9L264.7 431.4M185.1 250.4L186.7 246.2L189.7 246.2L188.7 243.3L188.9 241.7L193.0 241.7L195.3 239.8M193.0 241.7L192.4 246.7M194.7 247.2L191.8 250.7L189.7 252.5M191.8 250.7L194.6 252.0L195.0 253.3M196.1 254.4L199.3 251.7L201.8 249.9L206.1 249.1M199.4 259.4L203.3 260.2L204.0 259.9M205.4 267.3L206.3 263.6M233.7 236.7L233.5 241.2"/>
<path class="b bf" d="M393.9 196.0L395.0 200.2L396.1 203.7L391.0 206.8L387.6 209.5L379.2 212.9L379.1 216.6M379.1 215.5L369.4 215.5M379.1 216.6L379.0 220.0L371.5 220.0L371.4 226.6L369.1 228.0L369.0 232.4L359.8 232.4M379.1 216.6L387.9 222.7L401.6 233.8L406.4 238.5L408.5 238.0L412.6 235.9L416.0 233.5L426.2 226.6L421.6 224.0L420.4 219.2L421.4 214.7L420.1 208.9L417.3 202.9L416.9 197.6L417.6 191.2M420.1 208.9L421.8 204.7L424.4 201.3M454.7 205.2L456.1 230.6L456.3 235.9L454.0 235.9L454.0 237.2L435.3 226.6L433.1 228.0L426.2 226.6M456.1 230.6L483.1 230.6M387.9 222.7L384.0 222.7L386.1 245.1L386.1 247.8L376.8 247.8L372.2 247.8L370.5 249.6L366.4 244.9L360.6 246.4M370.5 249.6L372.3 255.9L367.0 255.4L360.0 255.9M372.3 255.9L377.9 256.2L380.2 261.8L379.4 268.6M367.8 264.9L373.2 262.3L374.3 266.5L376.9 269.2L379.4 268.6L381.3 277.1M374.3 266.5L372.0 270.5M380.2 261.8L386.0 261.2L386.7 257.5L389.5 253.6L394.2 250.9L399.3 249.1L406.9 248.0L408.5 245.1L408.5 238.0M399.3 249.1L401.1 253.3L404.4 257.0L400.9 259.6L398.6 259.4L392.3 259.6L392.5 263.6L391.8 275.2M386.0 261.2L392.5 263.6M398.6 259.4L400.2 267.6L401.6 272.6M400.9 259.6L402.5 272.3M405.3 271.8L405.1 264.9L407.2 257.8L404.4 257.0M407.2 257.8L408.1 253.0L415.1 254.4L422.0 253.6L430.4 252.5L434.6 244.1L434.4 235.9L433.1 228.0M418.7 276.3L421.7 271.5L426.8 268.9L430.2 262.3L432.5 255.7L431.3 254.1M431.3 254.1L433.7 262.3L431.4 262.3L435.0 268.9L442.0 267.6L452.1 259.9L449.9 255.2L451.0 251.7L454.3 247.2L454.0 237.2M452.1 259.9L454.8 265.7L461.7 263.6L466.4 262.8L471.0 262.8L474.4 257.0L476.0 256.5L478.0 263.6L480.2 258.3L482.9 255.2L483.4 250.9L484.3 243.8L487.6 241.2M483.4 250.9L489.2 250.4L492.7 251.7L497.3 255.7L496.1 259.6L498.9 259.6L499.0 263.6L503.7 266.2L508.4 267.6L510.8 267.6L504.0 275.5L497.0 277.6L496.7 278.1M496.7 278.1L491.2 279.5L487.6 279.2L482.9 277.1L482.7 276.6L480.6 274.2L475.8 267.6L478.0 263.6M496.7 278.1L494.7 281.3L494.7 288.7L495.9 293.2M482.7 276.6L479.4 277.6L471.3 278.9L470.8 279.5L467.7 276.8L463.1 275.5L457.1 268.9L454.8 265.7M479.4 277.6L480.7 284.7L478.4 288.2M478.3 291.3L486.5 296.6L490.4 301.0M435.0 268.9L432.7 274.2L433.9 278.1L436.2 282.9L442.3 279.5L442.0 277.3L450.2 277.6L457.2 275.5L463.1 275.5M421.7 282.6L429.9 282.9L436.2 283.4M421.7 286.1L425.2 286.1L425.2 282.9M429.9 282.9L432.7 286.1L431.6 290.0L432.7 293.9L428.0 294.7L425.7 297.9L424.7 299.2M442.3 279.5L440.5 288.7L437.4 292.6L436.2 296.6L434.6 300.0L429.2 301.0L427.3 303.9M427.5 304.4L429.2 304.2L437.3 304.2L438.5 308.3L444.3 307.0L449.7 307.8L450.1 312.3L450.0 317.5L454.7 317.5L454.5 322.7L449.9 322.7L449.7 331.4L452.8 334.8M426.0 334.0L431.1 334.3L441.5 334.3L447.2 335.8L452.8 334.8L457.2 335.3M454.7 317.5L459.3 319.6L463.8 322.2L467.3 323.8L467.8 320.7L465.1 319.6L465.0 313.1L467.6 310.7L470.6 310.4M470.8 279.5L472.0 282.9L468.5 287.4L468.0 292.4L466.6 295.8L467.3 300.2L467.7 304.4L470.6 310.4L475.5 313.3L478.0 313.6L479.3 318.8L486.0 319.3L492.9 316.2M468.0 292.4L470.2 291.3L478.3 291.3M470.2 291.3L470.8 295.0L469.9 300.2L467.5 300.5M466.6 295.8L470.8 295.0M475.5 313.3L476.1 317.5L474.7 324.1L475.8 325.4L478.5 326.7L478.1 330.6L480.3 333.5L482.0 327.7L479.8 324.1L479.3 318.8M475.8 325.4L468.8 328.0L469.2 329.6L465.7 330.6L461.1 335.8L457.2 335.3M469.2 329.6L474.8 332.4L474.3 338.5L473.3 344.5L470.4 347.4L466.1 346.8L462.4 342.4L458.7 338.5L457.2 335.3M447.2 336.6L446.9 346.3L444.6 346.3L444.4 353.6L443.9 363.1L438.2 364.6L436.0 363.6M444.4 353.6L445.7 358.9L451.1 355.0L456.8 356.0L460.2 350.8L466.1 346.8M470.4 347.4L471.7 352.9L471.3 356.5L473.4 358.9M459.5 366.2L463.1 363.6L464.9 366.0L462.7 368.8L460.3 368.1L459.5 366.2"/>
<circle class="us" cx="83.6" cy="236.4" r="0.9"/>
</g>
<g id="bubbles">
<circle cx="128.2" cy="245" r="128.8" fill="none" stroke="#fff" stroke-opacity=".8" stroke-width="1.7"/>
<circle cx="128.2" cy="245" r="128.5" fill="#1f4034" fill-opacity="0.855"/>
<circle cx="271.7" cy="136" r="36.4" fill="none" stroke="#fff" stroke-opacity=".8" stroke-width="1.7"/>
<circle cx="271.7" cy="136" r="36.1" fill="#8cb186" fill-opacity="0.85"/>
<circle cx="385.2" cy="162.8" r="47.2" fill="none" stroke="#fff" stroke-opacity=".8" stroke-width="1.7"/>
<circle cx="385.2" cy="162.8" r="46.9" fill="#567c5f" fill-opacity="0.88"/>
<circle cx="701.6" cy="176.1" r="66.4" fill="none" stroke="#fff" stroke-opacity=".8" stroke-width="1.7"/>
<circle cx="701.6" cy="176.1" r="66.1" fill="#395c49" fill-opacity="0.85"/>
<circle cx="305.4" cy="353.9" r="43.4" fill="none" stroke="#fff" stroke-opacity=".8" stroke-width="1.7"/>
<circle cx="305.4" cy="353.9" r="43.1" fill="#719672" fill-opacity="0.85"/>
<circle cx="533.7" cy="299.4" r="27.1" fill="#808080"/>
</g>
<g id="labels">
<text class="w lab" x="128" y="225.7" textLength="14" lengthAdjust="spacingAndGlyphs">US</text>
<text class="w val" x="128" y="253.6" font-size="27" textLength="83" lengthAdjust="spacingAndGlyphs">$10.4B</text>
<text class="w deal" x="127.5" y="271.3" textLength="48.7" lengthAdjust="spacingAndGlyphs">324 Deals</text>

<text class="w lab" x="271.7" y="121.6" textLength="37" lengthAdjust="spacingAndGlyphs">Canada</text>
<text class="w val" x="271.7" y="143.4" font-size="19" textLength="48" lengthAdjust="spacingAndGlyphs">$0.4B</text>
<text class="w deal" x="271.7" y="157.9" textLength="42.5" lengthAdjust="spacingAndGlyphs">24 Deals</text>

<text class="w lab" x="385.2" y="143.6" textLength="34.3" lengthAdjust="spacingAndGlyphs">Europe</text>
<text class="w val" x="385.5" y="171.5" font-size="26.5" textLength="67" lengthAdjust="spacingAndGlyphs">$1.6B</text>
<text class="w deal" x="385.2" y="188.4" textLength="48" lengthAdjust="spacingAndGlyphs">142 Deals</text>

<text class="w lab" x="701.5" y="157.6" textLength="21" lengthAdjust="spacingAndGlyphs">Asia</text>
<text class="w val" x="701.5" y="185.1" font-size="26.5" textLength="67" lengthAdjust="spacingAndGlyphs">$4.8B</text>
<text class="w deal" x="701.5" y="202.4" textLength="48.5" lengthAdjust="spacingAndGlyphs">321 Deals</text>

<text class="w lab" x="305.4" y="340" textLength="32.3" lengthAdjust="spacingAndGlyphs">LatAm</text>
<text class="w val" x="305.6" y="360.5" font-size="19" textLength="48" lengthAdjust="spacingAndGlyphs">$0.5B</text>
<text class="w deal" x="305.4" y="376.8" textLength="42.5" lengthAdjust="spacingAndGlyphs">12 Deals</text>

<text class="w sm" x="532.5" y="283.3" textLength="28" lengthAdjust="spacingAndGlyphs">All Other</text>
<text class="w sm" x="533.3" y="291.5" textLength="26.3" lengthAdjust="spacingAndGlyphs">Regions</text>
<text class="w val" x="533.7" y="309.8" font-size="17.3" textLength="43.7" lengthAdjust="spacingAndGlyphs">$0.1B</text>
<text class="w sm" x="534" y="320" textLength="28.5" lengthAdjust="spacingAndGlyphs">18 Deals</text>
</g>
<text id="title" class="t" x="53.6" y="68.2" textLength="713.2" lengthAdjust="spacingAndGlyphs">US dominates AI funding in Q3'21, while Asia narrows gap in deal count</text>
<g id="footer" font-size="9.5" fill="#222">
<text x="53.7" y="444.6" font-weight="700" textLength="44.5" lengthAdjust="spacingAndGlyphs">State Of AI</text>
<text x="101" y="444.4" fill="#cfcfcf">|</text>
<text x="105.5" y="444.6" textLength="57" lengthAdjust="spacingAndGlyphs" fill="#333">Global Trends</text>
<text x="165" y="444.4" fill="#cfcfcf">|</text>
<text x="169.8" y="444.6" textLength="76.5" lengthAdjust="spacingAndGlyphs" fill="#333">Investment Trends</text>
</g>
<g id="logo">
<rect x="693.2" y="435.6" width="13.2" height="10" rx="1.6" fill="#1a1a1a"/>
<path d="M693.2 440.6H706.4M701.6 435.6V445.6" stroke="#fff" stroke-width=".9" fill="none"/>
<text x="709.3" y="445.6" font-size="13.7" font-weight="700" fill="#1a1a1a" textLength="17.6" lengthAdjust="spacingAndGlyphs">CB</text>
<text x="727.2" y="445.6" font-size="13.7" fill="#2a2a2a" textLength="53.4" lengthAdjust="spacingAndGlyphs">INSIGHTS</text>
</g>
</svg>
</body>
</html>
